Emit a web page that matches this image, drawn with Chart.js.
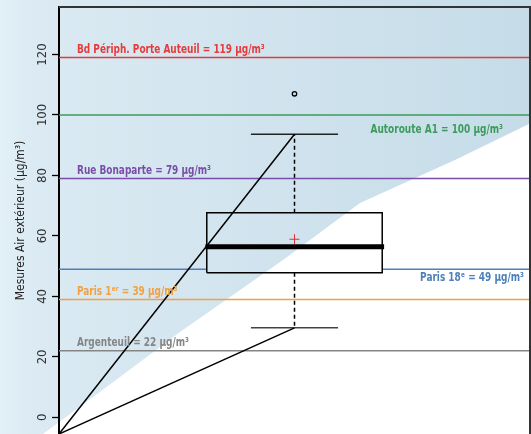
<!DOCTYPE html>
<html>
<head>
<meta charset="utf-8">
<script src="https://cdn.jsdelivr.net/npm/chart.js@4"></script>
<style>
  body { margin: 0; }
  #wrap { width: 531px; height: 434px; }
</style>
</head>
<body>
<div id="wrap"><canvas id="plot"></canvas></div>
<script>
// valeurs de référence (µg/m³)
const refNames = ['Bd Périph. Porte Auteuil', 'Autoroute A1', 'Rue Bonaparte', 'Paris 18ᵉ', 'Paris 1ᵉʳ', 'Argenteuil'];
const refValues = [119, 100, 79, 49, 39, 22];
const refColors = ['#e63b3b', '#3c9b5c', '#7a4ea8', '#4d80b8', '#f2a040', '#858585'];
const refSide = ['left', 'right', 'left', 'right', 'left', 'left'];
const refDx = [18, 27, 18, 6, 18, 18];
const refDy = [-5, 18, -4, 12, -4, -5];

// boîte à moustaches des mesures air extérieur
const whiskerLow = 29.6;
const quartile1 = 47.8;
const medianValue = 56.4;
const quartile3 = 67.7;
const whiskerHigh = 93.6;
const meanValue = 58.9;
const outliers = [107];

const yTicks = [0, 20, 40, 60, 80, 100, 120];
const yMin = -5.5, yMax = 135.7;

const center = 1, boxHalf = 0.3725, capHalf = 0.185;
const narrow = "'Liberation Sans Narrow', 'DejaVu Sans Condensed', sans-serif";

// bord de la zone blanche (pixels d'origine 531x434)
const shadeEdge = [[43, 434], [120, 377], [180, 332], [283, 260], [360, 203], [455, 160], [531, 123]];

function paintBackdrop(ctx, w, h) {
    let g = ctx.createLinearGradient(0, 0, w, 0);
    g.addColorStop(0, '#e3f0f7');
    g.addColorStop(0.06, '#dbeaf3');
    g.addColorStop(1, '#c5dce8');
    ctx.fillStyle = g;
    ctx.fillRect(0, 0, w, h);
    ctx.beginPath();
    ctx.moveTo(0, h);
    shadeEdge.forEach(p => ctx.lineTo(p[0] / 531 * w, p[1] / 434 * h));
    ctx.lineTo(w, h);
    ctx.closePath();
    ctx.fillStyle = '#ffffff';
    ctx.fill();
}

const decor = {
    id: 'decor',
    beforeDraw(chart) {
        let ctx = chart.ctx;
        ctx.save();
        paintBackdrop(ctx, chart.width, chart.height);
        ctx.restore();
    },
    beforeDatasetDraw(chart, args) {
        if (chart.data.datasets[args.index].label !== 'Boîte') return;
        let xs = chart.scales.x, ys = chart.scales.y, ctx = chart.ctx;
        let x0 = xs.getPixelForValue(center - boxHalf), x1 = xs.getPixelForValue(center + boxHalf);
        let y0 = ys.getPixelForValue(quartile3), y1 = ys.getPixelForValue(quartile1);
        ctx.save();
        ctx.beginPath();
        ctx.rect(x0, y0, x1 - x0, y1 - y0);
        ctx.clip();
        paintBackdrop(ctx, chart.width, chart.height);
        ctx.restore();
    },
    afterDatasetsDraw(chart) {
        let ctx = chart.ctx, ys = chart.scales.y, a = chart.chartArea;
        refValues.forEach((v, i) => {
            let y = ys.getPixelForValue(v) + refDy[i];
            let txt = refNames[i] + ' = ' + v + ' µg/m³';
            let x = refSide[i] === 'left' ? a.left + refDx[i] : a.right - refDx[i];
            ctx.save();
            ctx.font = 'bold 12px ' + narrow;
            ctx.textBaseline = 'alphabetic';
            ctx.textAlign = refSide[i];
            ctx.fillStyle = refColors[i];
            ctx.translate(x, y);
            ctx.scale(0.83, 1);
            ctx.fillText(txt, 0, 0);
            ctx.restore();
        });
    },
    afterDraw(chart) {
        let ctx = chart.ctx, a = chart.chartArea;
        ctx.save();
        ctx.strokeStyle = '#333';
        ctx.lineWidth = 2;
        ctx.beginPath();
        ctx.moveTo(a.left, a.top);
        ctx.lineTo(a.right, a.top);
        ctx.lineTo(a.right, a.bottom);
        ctx.stroke();
        ctx.restore();
    }
};

let datasets = [];
refValues.forEach((v, i) => {
    datasets.push({
        label: refNames[i],
        data: [{x: 0, y: v}, {x: 2, y: v}],
        borderColor: refColors[i],
        borderWidth: 1.5,
        order: 20
    });
});
datasets.push({
    label: 'Boîte',
    data: [
        {x: center - boxHalf, y: quartile1}, {x: center + boxHalf, y: quartile1},
        {x: center + boxHalf, y: quartile3}, {x: center - boxHalf, y: quartile3},
        {x: center - boxHalf, y: quartile1}
    ],
    borderColor: '#000',
    borderWidth: 1.5,
    order: 10
});
datasets.push({
    label: 'Moustache haute',
    data: [{x: center, y: quartile3}, {x: center, y: whiskerHigh}],
    borderColor: '#000', borderWidth: 1.5, borderDash: [4, 3], order: 8
});
datasets.push({
    label: 'Moustache basse',
    data: [{x: center, y: quartile1}, {x: center, y: whiskerLow}],
    borderColor: '#000', borderWidth: 1.5, borderDash: [4, 3], order: 8
});
datasets.push({
    label: 'Max',
    data: [{x: center - capHalf, y: whiskerHigh}, {x: center + capHalf, y: whiskerHigh}],
    borderColor: '#222', borderWidth: 1.5, order: 8
});
datasets.push({
    label: 'Min',
    data: [{x: center - capHalf, y: whiskerLow}, {x: center + capHalf, y: whiskerLow}],
    borderColor: '#444', borderWidth: 1.5, order: 8
});
datasets.push({
    label: 'Médiane',
    data: [{x: center - boxHalf - 0.006, y: medianValue}, {x: center + boxHalf + 0.008, y: medianValue}],
    borderColor: '#000', borderWidth: 5, order: 4
});
datasets.push({
    label: 'Rayon haut',
    data: [{x: 0, y: yMin}, {x: center, y: whiskerHigh}],
    borderColor: '#000', borderWidth: 1.5, order: 2
});
datasets.push({
    label: 'Rayon bas',
    data: [{x: 0, y: yMin}, {x: center, y: whiskerLow}],
    borderColor: '#000', borderWidth: 1.5, order: 2
});
datasets.push({
    label: 'Moyenne',
    data: [{x: center, y: meanValue}],
    showLine: false,
    pointStyle: 'cross',
    pointRadius: 5,
    borderColor: '#e03030',
    borderWidth: 1,
    order: 1
});
datasets.push({
    label: 'Valeurs extrêmes',
    data: outliers.map(v => ({x: center, y: v})),
    showLine: false,
    pointStyle: 'circle',
    pointRadius: 2.2,
    borderColor: '#000',
    backgroundColor: 'rgba(0,0,0,0)',
    borderWidth: 1.3,
    order: 1
});

window.onload = function() {
    let ctx = document.getElementById('plot').getContext('2d');
    let chart = new Chart(ctx, {
        type: 'scatter',
        data: {datasets: datasets},
        plugins: [decor],
        options: {
            responsive: true,
            maintainAspectRatio: false,
            animation: false,
            showLine: true,
            elements: {
                point: {radius: 0, hoverRadius: 0},
                line: {tension: 0}
            },
            layout: {autoPadding: false, padding: {top: 7, right: 1, left: 0, bottom: 0}},
            plugins: {
                legend: {display: false},
                tooltip: {enabled: false}
            },
            scales: {
                x: {
                    type: 'linear',
                    min: 0,
                    max: 2,
                    display: false
                },
                y: {
                    type: 'linear',
                    min: yMin,
                    max: yMax,
                    afterBuildTicks: function(scale) {
                        scale.ticks = yTicks.map(v => ({value: v}));
                    },
                    afterFit: function(scale) {
                        scale.width = 59;
                        scale.paddingTop = 0;
                        scale.paddingBottom = 0;
                        scale.paddingLeft = 0;
                        scale.paddingRight = 0;
                    },
                    ticks: {
                        minRotation: 90,
                        maxRotation: 90,
                        crossAlign: 'center',
                        padding: -2,
                        color: '#333',
                        font: {family: narrow, size: 13}
                    },
                    grid: {
                        drawOnChartArea: false,
                        tickLength: 7,
                        tickWidth: 1.3,
                        tickColor: '#000'
                    },
                    border: {display: true, color: '#000', width: 2},
                    title: {
                        display: true,
                        text: 'Mesures Air extérieur (µg/m³)',
                        color: '#222',
                        padding: {top: 14, bottom: 0},
                        font: {family: narrow, size: 12}
                    }
                }
            }
        }
    });
}
</script>
</body>
</html>
